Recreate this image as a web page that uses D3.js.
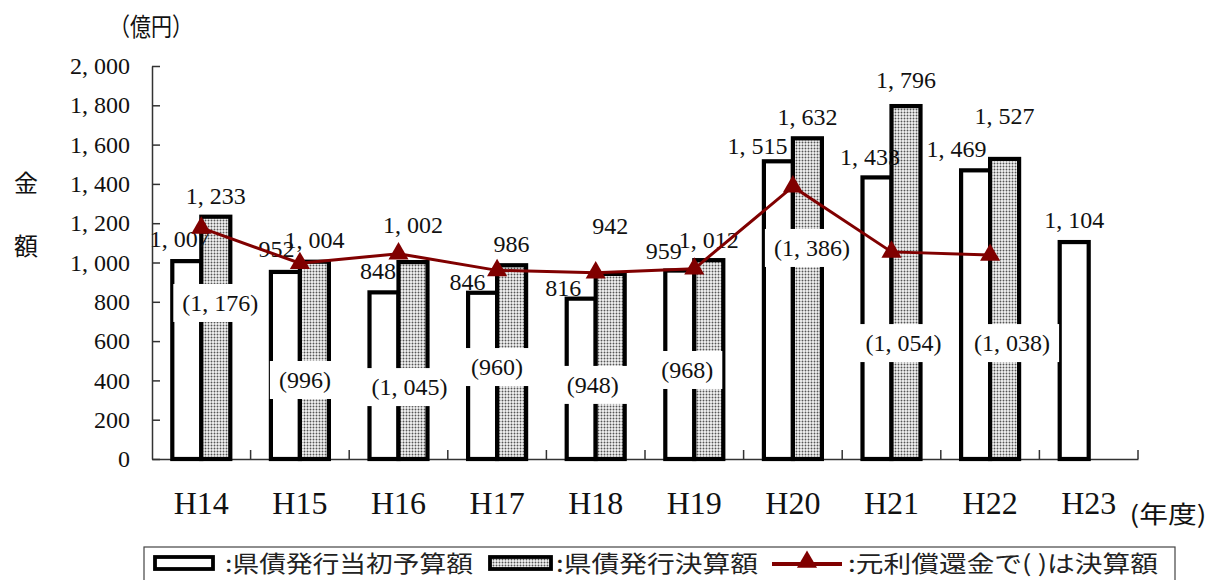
<!DOCTYPE html>
<html>
<head>
<meta charset="utf-8">
<title>県債発行額</title>
<style>
  body { margin: 0; background: #fff; }
  svg { display: block; }
</style>
</head>
<body>
<div id="chart"></div>
<script src="https://cdn.jsdelivr.net/npm/d3@7/dist/d3.min.js"></script>
<script type="text/javascript">
// data (億円)
var years = ['H14', 'H15', 'H16', 'H17', 'H18', 'H19', 'H20', 'H21', 'H22', 'H23'];
var budget = [1007, 952, 848, 846, 816, 959, 1515, 1433, 1469, 1104];      // 県債発行当初予算額
var settled = [1233, 1004, 1002, 986, 942, 1012, 1632, 1796, 1527, null];  // 県債発行決算額
var repay = [1176, 996, 1045, 960, 948, 968, 1386, 1054, 1038, null];      // 元利償還金 (決算額)
var yTicks = [0, 200, 400, 600, 800, 1000, 1200, 1400, 1600, 1800, 2000];

// label placement, hand tuned like the original sheet
var budgetDx = [-7, -9, -6, -15, -18, -16, -21, -7, -19, 0];
var budgetDy = [-14, -15, -13, -3, -3, -12, -7, -12, -13, -14];
var settledDy = [-13, -14, -29, -13, -40, -12, -13, -18, -35, 0];
var repayLabelLevel = [794, 402, 366, 468, 377, 453, 1074, 590, 590, null];
var repayLabelDx = [19, 5, 11, 0, -3, -7, 19, 12, 22, 0];

var W = 1210, H = 580;
var numFont = '"Liberation Serif", "DejaVu Serif", serif';
var jpFont = '"Noto Sans CJK JP", "Noto Sans", sans-serif';
var lineColor = '#800000';

var svg = d3.select('#chart')
.append('svg')
.attr('width', W)
.attr('height', H);

var defs = svg.append('defs');
var pat = defs.append('pattern')
.attr('id', 'dots')
.attr('patternUnits', 'userSpaceOnUse')
.attr('width', 3)
.attr('height', 3);
pat.append('rect').attr('width', 3).attr('height', 3).attr('fill', '#f4f4f4');
pat.append('circle').attr('cx', 1.5).attr('cy', 1.5).attr('r', 0.95).attr('fill', '#555');

var x = d3.scaleBand()
.domain(years)
.range([152, 1138]);

var barW = 29;
var x1 = d3.scaleBand()
.domain(['budget', 'settled'])
.range([0, barW * 2]);
var groupOff = (x.bandwidth() - barW * 2) / 2;

var y = d3.scaleLinear()
.domain([0, 2000])
.range([459, 66]);

function fmt(v) {
    return d3.format(',')(v).replace(',', ', ');
}

// y axis
var yAxis = d3.axisLeft(y)
.tickValues(yTicks)
.tickSize(-8)
.tickSizeOuter(0)
.tickPadding(22)
.tickFormat(fmt);

var gy = svg.append('g')
.attr('transform', 'translate(152,0)')
.call(yAxis);
gy.select('.domain').attr('stroke', '#333').attr('stroke-width', 1.5);
gy.selectAll('.tick line').attr('stroke', '#333').attr('stroke-width', 1.5);
gy.selectAll('.tick text')
.style('font-family', numFont)
.style('font-size', '24px')
.attr('fill', '#111');

// x axis
var xAxis = d3.axisBottom(x).tickSize(0).tickSizeOuter(0);
var gx = svg.append('g')
.attr('transform', 'translate(0,459)')
.call(xAxis);
gx.select('.domain').attr('stroke', '#333').attr('stroke-width', 1.5);
gx.selectAll('.tick text')
.attr('y', 32)
.style('font-family', numFont)
.style('font-size', '32px')
.attr('fill', '#111');

// separators between categories
svg.append('g').selectAll('line')
.data(years)
.join('line')
.attr('x1', d => x(d) + x.bandwidth())
.attr('x2', d => x(d) + x.bandwidth())
.attr('y1', 459)
.attr('y2', 450)
.attr('stroke', '#333')
.attr('stroke-width', 1.5);

// bars
var rows = years.map((d, i) => ({year: d, budget: budget[i], settled: settled[i], repay: repay[i], i: i}));

var bars = svg.append('g');
rows.forEach(r => {
    var gx0 = x(r.year) + groupOff;
    bars.append('rect')
    .attr('x', gx0 + x1('budget'))
    .attr('y', y(r.budget))
    .attr('width', barW)
    .attr('height', y(0) - y(r.budget))
    .attr('fill', '#fff')
    .attr('stroke', '#000')
    .attr('stroke-width', 4.2);
    if (r.settled != null) {
        bars.append('rect')
        .attr('x', gx0 + x1('settled'))
        .attr('y', y(r.settled))
        .attr('width', barW)
        .attr('height', y(0) - y(r.settled))
        .attr('fill', 'url(#dots)')
        .attr('stroke', '#000')
        .attr('stroke-width', 4.2);
    }
});

// repayment labels in white boxes
var boxes = svg.append('g');
rows.filter(r => r.repay != null).forEach(r => {
    var cx = x(r.year) + x.bandwidth() / 2 + repayLabelDx[r.i];
    var cy = y(repayLabelLevel[r.i]);
    var t = boxes.append('text')
    .attr('x', cx)
    .attr('y', cy)
    .attr('dy', '0.35em')
    .attr('text-anchor', 'middle')
    .style('font-family', numFont)
    .style('font-size', '24px')
    .attr('fill', '#111')
    .text('(' + fmt(r.repay) + ')');
    var bb = t.node().getBBox();
    boxes.insert('rect', 'text')
    .attr('x', bb.x - 9)
    .attr('y', cy - 19)
    .attr('width', bb.width + 18)
    .attr('height', 38)
    .attr('fill', '#fff');
});

// value labels
var labels = svg.append('g')
.style('font-family', numFont)
.style('font-size', '24px')
.attr('fill', '#111')
.attr('text-anchor', 'middle');

rows.forEach(r => {
    var gx0 = x(r.year) + groupOff;
    labels.append('text')
    .attr('x', gx0 + x1('budget') + barW / 2 + budgetDx[r.i])
    .attr('y', y(r.budget) + budgetDy[r.i])
    .text(fmt(r.budget));
    if (r.settled != null) {
        labels.append('text')
        .attr('x', gx0 + x1('settled') + barW / 2)
        .attr('y', y(r.settled) + settledDy[r.i])
        .text(fmt(r.settled));
    }
});

// repayment line
var pts = rows.filter(r => r.repay != null);
var line = d3.line()
.x(d => x(d.year) + x.bandwidth() / 2)
.y(d => y(d.repay));

svg.append('path')
.attr('d', line(pts))
.attr('fill', 'none')
.attr('stroke', lineColor)
.attr('stroke-width', 3);

var tri = d3.symbol().type(d3.symbolTriangle).size(175);
svg.append('g').selectAll('path')
.data(pts)
.join('path')
.attr('d', tri)
.attr('transform', d => 'translate(' + (x(d.year) + x.bandwidth() / 2) + ',' + y(d.repay) + ')')
.attr('fill', lineColor);

// axis titles
svg.append('text')
.attr('x', 151).attr('y', 27).attr('dy', '0.35em')
.attr('text-anchor', 'middle')
.attr('textLength', 84).attr('lengthAdjust', 'spacingAndGlyphs')
.style('font-family', jpFont).style('font-size', '25px').attr('fill', '#111')
.text('（億円）');

[['金', 184], ['額', 247]].forEach(a => {
    svg.append('text')
    .attr('x', 26).attr('y', a[1]).attr('dy', '0.35em')
    .attr('text-anchor', 'middle')
    .style('font-family', jpFont).style('font-size', '24px').attr('fill', '#111')
    .text(a[0]);
});

svg.append('text')
.attr('x', 1168).attr('y', 515).attr('dy', '0.35em')
.attr('text-anchor', 'middle')
.attr('textLength', 77).attr('lengthAdjust', 'spacingAndGlyphs')
.style('font-family', jpFont).style('font-size', '24px').attr('fill', '#111')
.text('(年度)');

// legend
var lg = svg.append('g');
lg.append('rect')
.attr('x', 144).attr('y', 547)
.attr('width', 1031).attr('height', 45)
.attr('fill', '#fff')
.attr('stroke', '#444')
.attr('stroke-width', 1.2);

lg.append('rect')
.attr('x', 155).attr('y', 557).attr('width', 58).attr('height', 12)
.attr('fill', '#fff').attr('stroke', '#000').attr('stroke-width', 3.8);
lg.append('rect')
.attr('x', 490).attr('y', 557).attr('width', 61).attr('height', 12)
.attr('fill', 'url(#dots)').attr('stroke', '#000').attr('stroke-width', 3.8);
lg.append('line')
.attr('x1', 772).attr('x2', 842).attr('y1', 564).attr('y2', 564)
.attr('stroke', lineColor).attr('stroke-width', 4);
lg.append('path')
.attr('d', tri)
.attr('transform', 'translate(807,562)')
.attr('fill', lineColor);

var legendTexts = [
    {x: 225, w: 248, t: ':県債発行当初予算額'},
    {x: 556, w: 202, t: ':県債発行決算額'},
    {x: 848, w: 310, t: ':元利償還金で( )は決算額'}
];
legendTexts.forEach(d => {
    lg.append('text')
    .attr('x', d.x).attr('y', 572)
    .attr('textLength', d.w).attr('lengthAdjust', 'spacingAndGlyphs')
    .style('font-family', jpFont).style('font-size', '23px').attr('fill', '#222')
    .text(d.t);
});
</script>
</body>
</html>
